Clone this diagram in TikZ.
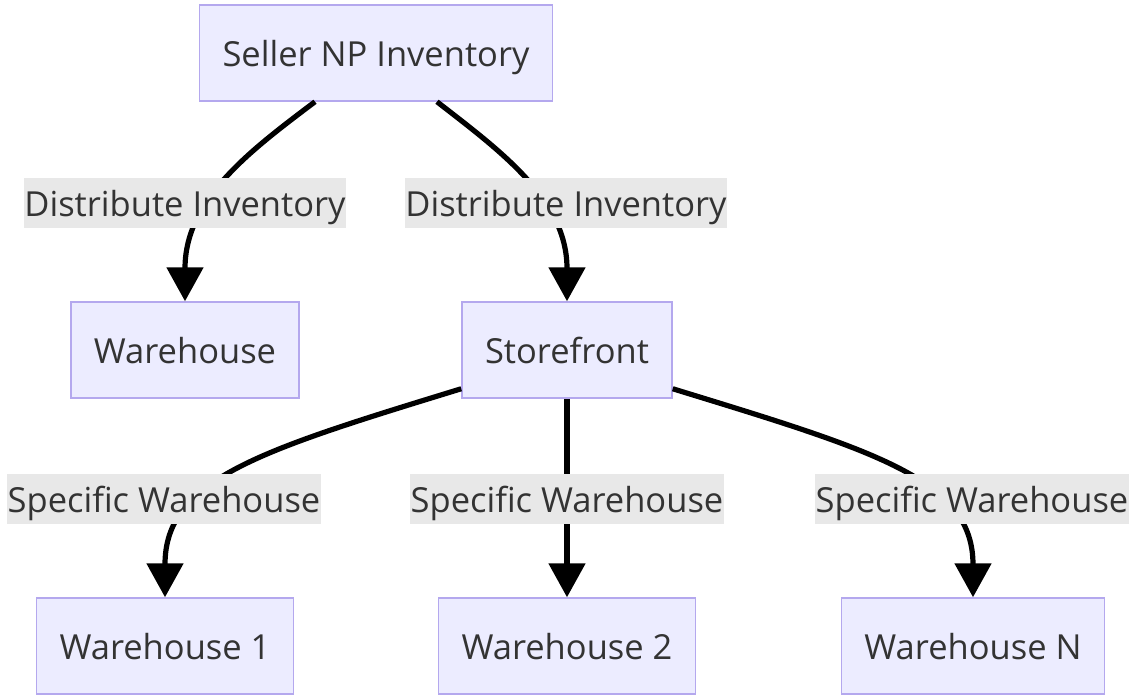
\documentclass[tikz,border=0pt]{standalone}
\usepackage{fontspec}
\setmainfont{Open Sans}
\usepackage{tikz}
\usetikzlibrary{arrows.meta}

\definecolor{boxfill}{HTML}{ECECFF}
\definecolor{boxline}{HTML}{B4A8EE}
\definecolor{lblfill}{HTML}{E8E8E8}
\definecolor{txt}{HTML}{333333}

\begin{document}
\begin{tikzpicture}[x=1pt, y=-1pt,
        every node/.style = {text=txt, font=\fontsize{34.5}{41}\selectfont, text height=34pt, text depth=8pt},
        main/.style = {draw=boxline, line width=1.5pt, fill=boxfill, minimum height=96pt, inner xsep=23pt},
        lbl/.style = {fill=lblfill, minimum height=50pt, inner xsep=0.5pt, inner ysep=0pt},
        flow/.style = {line width=5.2pt, -{Triangle[length=34pt,width=36pt]}}]
            \useasboundingbox (0,0) rectangle (1132,696);

            \node[main] (seller) at (376,53) {Seller NP Inventory};
            \node[main] (wh) at (185,350) {Warehouse};
            \node[main] (store) at (567,350) {Storefront};
            \node[main] (wh1) at (165,646) {Warehouse 1};
            \node[main] (wh2) at (567,646) {Warehouse 2};
            \node[main] (whn) at (973,646) {Warehouse N};

            \draw[flow] ([xshift=-61pt]seller.south) .. controls +(-65,49) and +(0,-102) .. (wh.north);
            \draw[flow] ([xshift=61pt]seller.south) .. controls +(63,49) and +(0,-102) .. (store.north);

            \draw[flow] ([yshift=10pt]store.south west) .. controls +(-202,62) and +(0,-118) .. (wh1.north);
            \draw[flow] (store.south) -- (wh2.north);
            \draw[flow] ([yshift=10pt]store.south east) .. controls +(202,62) and +(0,-118) .. (whn.north);

            \node[lbl] (d1) at (185,203) {Distribute Inventory};
            \node[lbl] (d2) at (566,203) {Distribute Inventory};
            \node[lbl] (s1) at (164,499) {Specific Warehouse};
            \node[lbl] (s2) at (567,499) {Specific Warehouse};
            \node[lbl] (sn) at (972,499) {Specific Warehouse};

            %\draw[flow] (seller) -- (store);
        \end{tikzpicture}
\end{document}
